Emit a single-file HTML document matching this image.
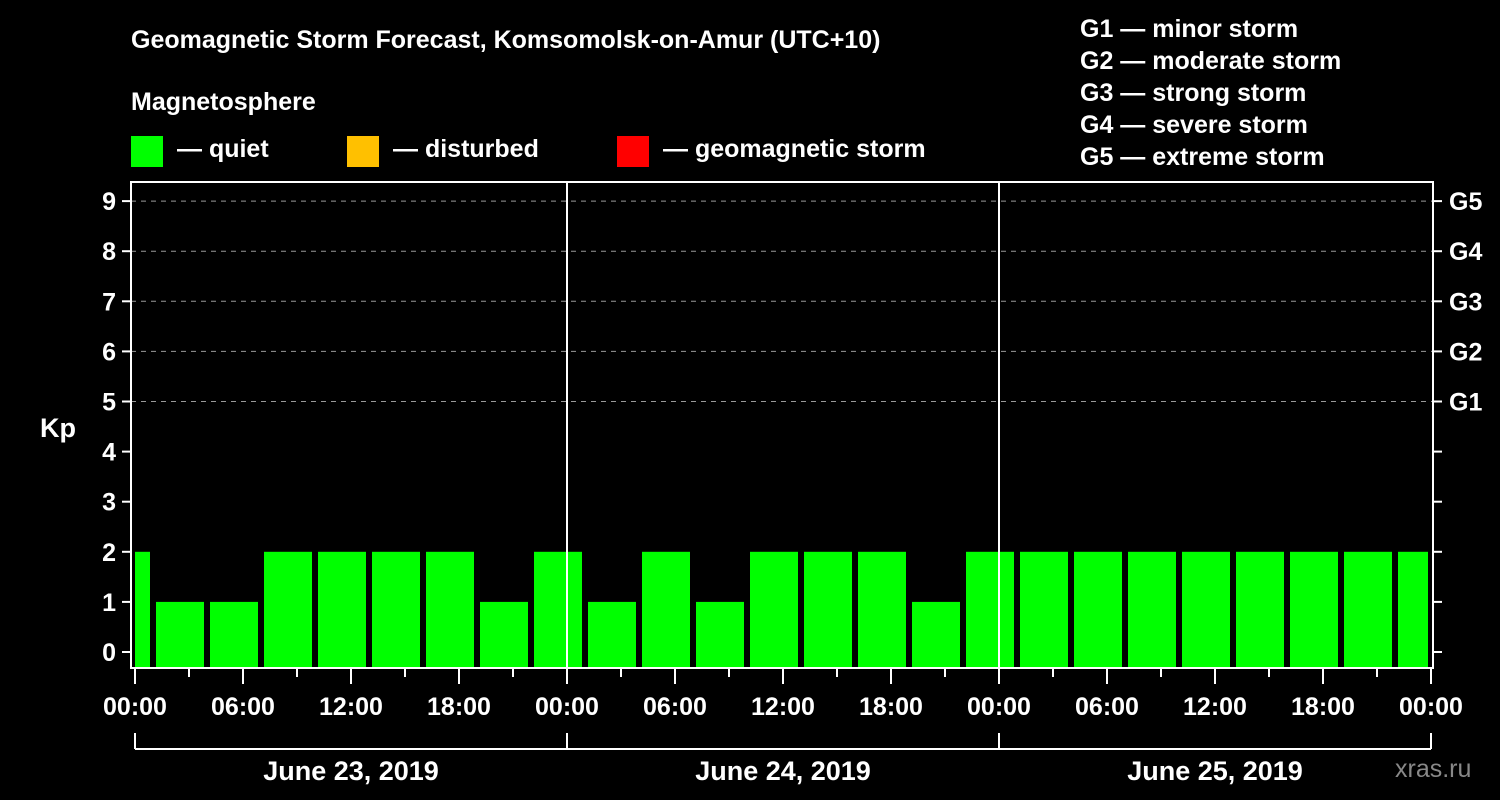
<!DOCTYPE html>
<html><head><meta charset="utf-8"><style>
body{margin:0;background:#000;}
svg{display:block;font-family:"Liberation Sans",Arial,sans-serif;font-weight:bold;}
</style></head><body>
<svg id="c" width="1500" height="800" viewBox="0 0 1500 800">
<rect width="1500" height="800" fill="#000"/>
<text x="131" y="48" fill="#fff" font-size="25">Geomagnetic Storm Forecast, Komsomolsk-on-Amur (UTC+10)</text>
<text x="131" y="110" fill="#fff" font-size="25">Magnetosphere</text>
<g><rect x="131" y="136" width="32" height="31" fill="#00ff00"/><text x="177" y="157" fill="#fff" font-size="25">— quiet</text></g>
<g><rect x="347" y="136" width="32" height="31" fill="#ffc000"/><text x="393" y="157" fill="#fff" font-size="25">— disturbed</text></g>
<g><rect x="617" y="136" width="32" height="31" fill="#ff0000"/><text x="663" y="157" fill="#fff" font-size="25">— geomagnetic storm</text></g>
<g fill="#fff" font-size="25">
<text x="1080" y="37">G1 — minor storm</text><text x="1080" y="69">G2 — moderate storm</text><text x="1080" y="101">G3 — strong storm</text><text x="1080" y="133">G4 — severe storm</text><text x="1080" y="165">G5 — extreme storm</text>
</g>
<text x="40" y="437" fill="#fff" font-size="27">Kp</text>
<text x="1395" y="777" fill="#888" font-size="25" font-weight="normal">xras.ru</text>
<g id="plot"></g>
</svg>
<script>
const kpValues=[2,1,1,2,2,2,2,1,2,1,2,1,2,2,2,1,2,2,2,2,2,2,2,2,2];
const barCenterHours=[-0.5,2.5,5.5,8.5,11.5,14.5,17.5,20.5,23.5,26.5,29.5,32.5,35.5,38.5,41.5,44.5,47.5,50.5,53.5,56.5,59.5,62.5,65.5,68.5,71.5];
const kpTicks=[0,1,2,3,4,5,6,7,8,9];
const gLabels=["G1","G2","G3","G4","G5"];
const timeLabels=["00:00","06:00","12:00","18:00"];
const dayLabels=["June 23, 2019","June 24, 2019","June 25, 2019"];
const NS="http://www.w3.org/2000/svg";
const g=document.getElementById('plot');
const x0=135,pxh=18,L=131,R=1433,T=182,B=668;
const xs=h=>x0+h*pxh;
const ys=k=>652-k*50.1;
function el(t,a,p){const e=document.createElementNS(NS,t);for(const k in a)e.setAttribute(k,a[k]);(p||g).appendChild(e);return e;}
// grid
kpTicks.forEach(k=>{
 if(k>=5){const l=el('line',{x1:L,x2:R,y1:ys(k),y2:ys(k),stroke:'#999','stroke-dasharray':'5,5','stroke-width':1});
 
 }
 const t=el('line',{x1:122,x2:L,y1:ys(k),y2:ys(k),stroke:'#fff','stroke-width':2});
 
 
 const t2=el('line',{x1:R,x2:1442,y1:ys(k),y2:ys(k),stroke:'#fff','stroke-width':2});
 
 
 const tx=el('text',{x:116,y:ys(k)+9,fill:'#fff','font-size':25,'text-anchor':'end'});
 tx.textContent=k;
 
 
});
gLabels.forEach((s,i)=>{
 const tx=el('text',{x:1449,y:ys(5+i)+9,fill:'#fff','font-size':25});
 tx.textContent=s;
 
 
});
// bars
kpValues.forEach((v,i)=>{
 const c=xs(barCenterHours[i]);let a=Math.max(c-24,x0),b=Math.min(c+24,1428);
 const r=el('rect',{x:a,y:ys(v),width:b-a,height:B-ys(v),fill:v>=5?'#ff0000':(v>=4?'#ffc000':'#00ff00')});
 
 
});
// day separators
[1,2].forEach(d=>{const l=el('line',{x1:xs(24*d),x2:xs(24*d),y1:T,y2:B,stroke:'#fff','stroke-width':2});
 
 });
// frame
const f=el('rect',{x:L,y:T,width:R-L,height:B-T,fill:'none',stroke:'#fff','stroke-width':2});


// x ticks
for(let h=0;h<=72;h+=3){
 const l=el('line',{x1:xs(h),x2:xs(h),y1:B,y2:h%6==0?684:677,stroke:'#fff','stroke-width':2});
 
 
 if(h%6==0){const tx=el('text',{x:xs(h),y:715,fill:'#fff','font-size':25,'text-anchor':'middle'});
  tx.textContent=h%24==0?"00:00":timeLabels[(h%24)/6];
  
  }
}
// day brackets
const br=el('line',{x1:xs(0),x2:xs(72),y1:749,y2:749,stroke:'#fff','stroke-width':2});


[0,1,2,3].forEach(d=>{const l=el('line',{x1:xs(24*d),x2:xs(24*d),y1:733,y2:749,stroke:'#fff','stroke-width':2});
 
 });
dayLabels.forEach((s,d)=>{const tx=el('text',{x:xs(24*d+12),y:780,fill:'#fff','font-size':27,'text-anchor':'middle'});
 tx.textContent=s;
 
 });
</script>
</body></html>
